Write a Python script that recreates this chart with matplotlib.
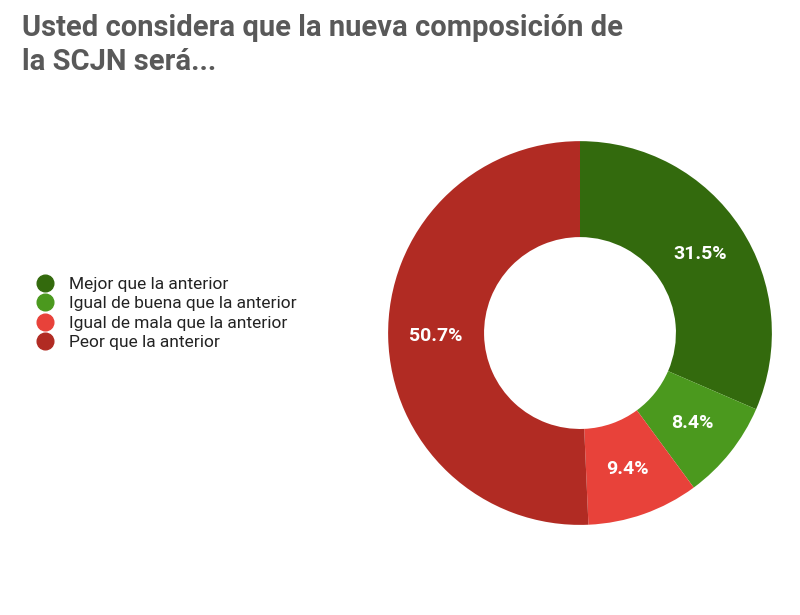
import matplotlib
matplotlib.use("Agg")
from matplotlib import pyplot as plt
from matplotlib.lines import Line2D

categories = ["Mejor que la anterior", "Igual de buena que la anterior",
              "Igual de mala que la anterior", "Peor que la anterior"]
values = [31.5, 8.4, 9.4, 50.7]
colors = ["#336a0d", "#4b991e", "#e8423a", "#b12b23"]

fig = plt.figure(figsize=(8, 6.15), dpi=100)
fig.patch.set_facecolor("white")

fig.text(0.0275, 0.927, "Usted considera que la nueva composición de\nla SCJN será...",
         fontsize=21, fontweight="bold", color="#595959", va="center", ha="left",
         linespacing=1.25, family="Roboto")

ax = fig.add_axes([0.725 - 0.24, 0.4585 - 0.312, 0.48, 0.624])
wedges, _, autotexts = ax.pie(values, colors=colors, startangle=90, counterclock=False,
                              radius=1.0, wedgeprops=dict(width=0.5, linewidth=0),
                              autopct=lambda p: f"{p:.1f}%", pctdistance=0.75)
for t in autotexts:
    t.set_color("white")
    t.set_fontsize(14)
    t.set_fontweight("bold")
    t.set_family("Roboto")
ax.set_aspect("equal")
ax.set_xlim(-1, 1)
ax.set_ylim(-1, 1)

handles = [Line2D([0], [0], marker="o", linestyle="", markersize=12,
                  markerfacecolor=c, markeredgecolor=c) for c in colors]
fig.legend(handles, categories, loc="center left", bbox_to_anchor=(0.015, 0.49),
           frameon=False, handletextpad=0.4, labelspacing=0.25,
           prop={"family": "Roboto", "size": 12.5}, labelcolor="#222222")

fig.savefig("out.png", dpi=100)
